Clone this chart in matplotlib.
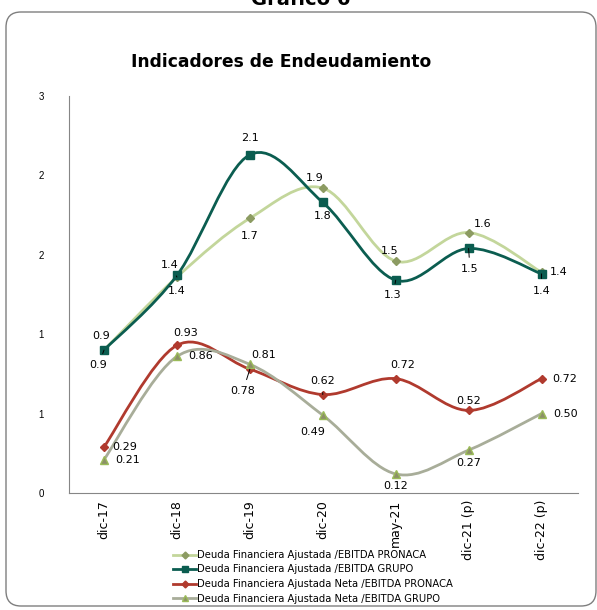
import matplotlib
matplotlib.use("Agg")
import matplotlib.pyplot as plt
from matplotlib.path import Path
from matplotlib.patches import PathPatch, FancyBboxPatch
from matplotlib.lines import Line2D
import numpy as np

# Datos
periodos = ["dic-17", "dic-18", "dic-19", "dic-20", "may-21", "dic-21 (p)", "dic-22 (p)"]
pronaca = [0.90, 1.36, 1.73, 1.92, 1.46, 1.64, 1.39]
grupo = [0.90, 1.37, 2.13, 1.83, 1.34, 1.54, 1.38]
neta_pronaca = [0.29, 0.93, 0.78, 0.62, 0.72, 0.52, 0.72]
neta_grupo = [0.21, 0.86, 0.81, 0.49, 0.12, 0.27, 0.50]
y_ticks = [0, 0.5, 1.0, 1.5, 2.0, 2.5]
y_tick_labels = ["0", "1", "1", "2", "2", "3"]

nombres = ["Deuda Financiera Ajustada /EBITDA PRONACA",
           "Deuda Financiera Ajustada /EBITDA GRUPO",
           "Deuda Financiera Ajustada Neta /EBITDA PRONACA",
           "Deuda Financiera Ajustada Neta /EBITDA GRUPO"]


def curva_suave(x, y):
    # linea suavizada tipo Excel: bezier cubica con tangentes de los vecinos
    n = len(x)
    verts = [(x[0], y[0])]
    codes = [Path.MOVETO]
    for i in range(n - 1):
        a = max(i - 1, 0)
        b = min(i + 2, n - 1)
        c1 = (x[i] + (x[i + 1] - x[a]) / 6, y[i] + (y[i + 1] - y[a]) / 6)
        c2 = (x[i + 1] - (x[b] - x[i]) / 6, y[i + 1] - (y[b] - y[i]) / 6)
        verts += [c1, c2, (x[i + 1], y[i + 1])]
        codes += [Path.CURVE4] * 3
    return Path(verts, codes)


fig = plt.figure(figsize=(5.97, 6.10), dpi=100)

# marco redondeado
marco = FancyBboxPatch((6 / 597, 4 / 610), 590 / 597, 594 / 610,
                       boxstyle="round,pad=0,rounding_size=0.025",
                       transform=fig.transFigure, fill=False,
                       edgecolor="#7f7f7f", linewidth=1.0)
fig.add_artist(marco)

fig.text(0.503, 1 - 9 / 610, "Gráfico 6", ha="center", va="bottom",
         fontsize=14, fontweight="bold", family="DejaVu Sans")
fig.text(0.471, 1 - 62 / 610, "Indicadores de Endeudamiento", ha="center", va="center",
         fontsize=12.3, fontweight="bold", family="DejaVu Sans")

ax = fig.add_axes([69 / 597, 1 - 493 / 610, 509 / 597, 397 / 610])
x = np.arange(len(periodos))

series = [
    (pronaca, "#c3d69b", "D", "#8c9b62", "#8c9b62", 4.5),
    (grupo, "#0b5d50", "s", "#0b5d50", "#0b5d50", 5.5),
    (neta_pronaca, "#b03a2e", "D", "#b03a2e", "#b03a2e", 4.5),
    (neta_grupo, "#a8ad99", "^", "#8c9068", "#9bbb59", 6),
]

for vals, col, mk, mfc, mec, ms in series:
    ax.add_patch(PathPatch(curva_suave(x, vals), facecolor="none", edgecolor=col,
                           linewidth=2.0, zorder=2))
    ax.plot(x, vals, linestyle="none", marker=mk, markersize=ms,
            markerfacecolor=mfc, markeredgecolor=mec, zorder=3)

# etiquetas de datos: (dx, dy) en puntos, leader
offs_pronaca = [(-2, 10, False), (-5, 9, True), (0, -13, False), (-6, 7, False),
                (-4, 7, False), (10, 6, False), (12, 0, False)]
offs_grupo = [(-4, -11, True), (0, -11, False), (0, 12, False), (0, -10, False),
              (-2, -11, True), (1, -15, True), (0, -12, True)]
offs_np = [(15, 0, False), (6, 9, False), (-5, -16, True), (0, 10, True),
           (5, 10, False), (0, 7, False), (17, 0, False)]
offs_ng = [(17, 0, False), (17, 0, False), (10, 7, False), (-7, -12, False),
           (0, -9, False), (0, -9, False), (17, 0, False)]

for vals, offs, fmt in [(pronaca, offs_pronaca, "{:.1f}"), (grupo, offs_grupo, "{:.1f}"),
                        (neta_pronaca, offs_np, "{:.2f}"), (neta_grupo, offs_ng, "{:.2f}")]:
    for xi, v, (dx, dy, lider) in zip(x, vals, offs):
        props = None
        if lider:
            props = dict(arrowstyle="-", color="black", lw=0.7, shrinkA=3, shrinkB=0)
        ax.annotate(fmt.format(v), (xi, v), xytext=(dx, dy), textcoords="offset points",
                    ha="center", va="center", fontsize=8, family="DejaVu Sans",
                    arrowprops=props, zorder=4)

ax.set_xlim(-0.48, 6.5)
ax.set_ylim(0, 2.5)
ax.set_yticks(y_ticks)
ax.set_yticklabels(y_tick_labels, fontsize=7, family="Liberation Sans")
ax.set_xticks(x)
ax.set_xticklabels(periodos, rotation=90, fontsize=9, family="DejaVu Sans")
ax.tick_params(axis="both", length=0)
ax.tick_params(axis="y", pad=18)
ax.tick_params(axis="x", pad=5)
for s in ["top", "right"]:
    ax.spines[s].set_visible(False)
ax.spines["left"].set_color("#868686")
ax.spines["bottom"].set_color("#868686")

handles = [Line2D([], [], color=col, linewidth=2.0, marker=mk, markersize=ms - 1,
                  markerfacecolor=mfc, markeredgecolor=mec)
           for vals, col, mk, mfc, mec, ms in series]
fig.legend(handles, nombres, loc="upper left", bbox_to_anchor=(168 / 597, 1 - 545 / 610),
           frameon=False, handlelength=2.3, handletextpad=0.1,
           labelspacing=0.45, borderpad=0, prop={"family": "DejaVu Sans", "size": 7.2})

fig.savefig("out.png", dpi=100)
